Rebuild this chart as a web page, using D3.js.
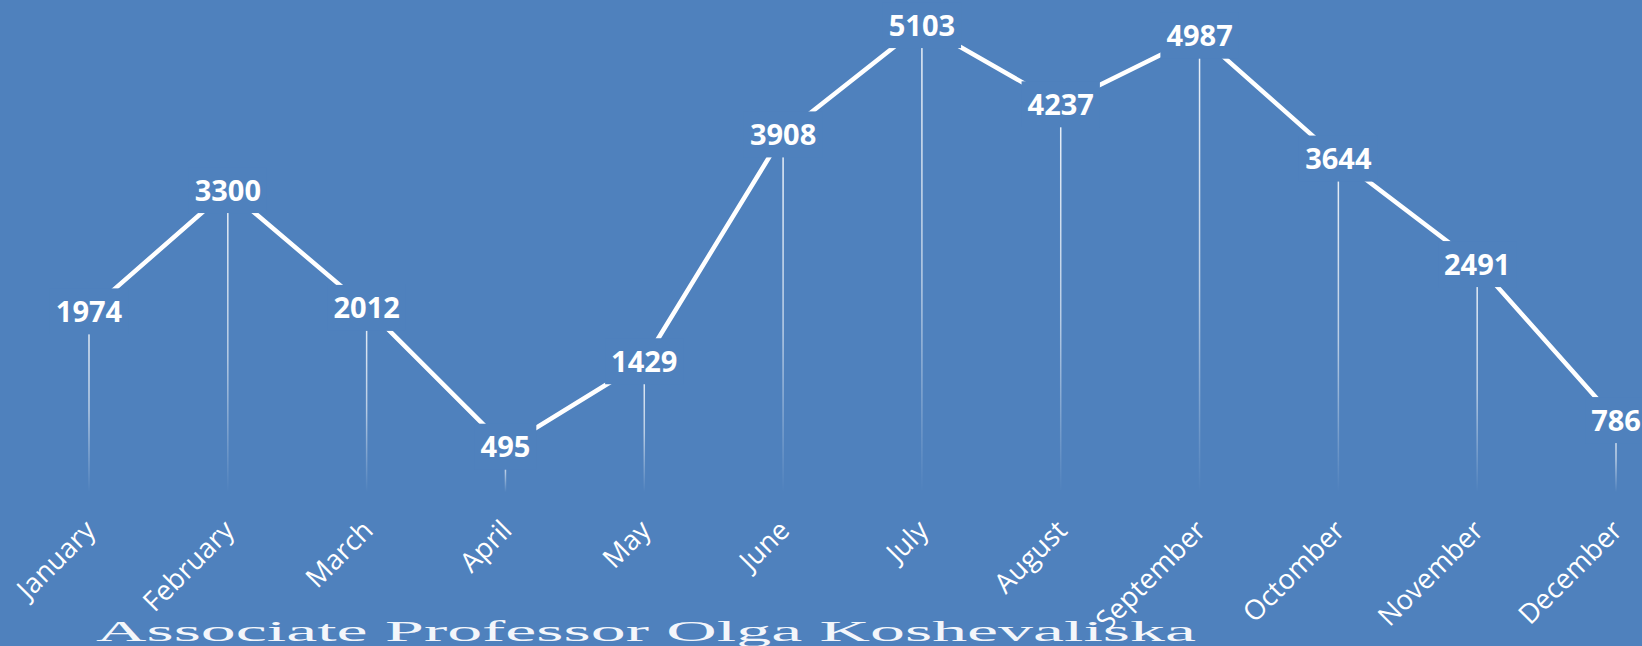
<!DOCTYPE html>
<html>
<head>
<meta charset="utf-8">
<script src="https://cdn.jsdelivr.net/npm/d3@7"></script>
<style>
  html, body { margin: 0; padding: 0; background: #4f81bd; overflow: hidden; }
  .value-label { font-family: "Open Sans", sans-serif; font-weight: 700; font-size: 29px; fill: #fff; }
  .cat-label { font-family: "Open Sans", sans-serif; font-size: 27.5px; fill: #fff; }
  .footer { font-family: "Liberation Serif", "Times New Roman", serif; font-size: 30px; fill: #f3f6fb; }
</style>
</head>
<body>
<div id="chart"></div>
<script>
const months = ["January", "February", "March", "April", "May", "June",
  "July", "August", "September", "Octomber", "November", "December"];
const values = [1974, 3300, 2012, 495, 1429, 3908, 5103, 4237, 4987, 3644, 2491, 786];
const yDomain = [0, 5000];
const footerText = "Associate Professor Olga Koshevaliska";

class LineChart {

  constructor(_config) {
    this.config = {
      parentElement: _config.parentElement,
      containerWidth: _config.containerWidth || 1642,
      containerHeight: _config.containerHeight || 646,
      background: "#4f81bd"
    }
    this.config.margin = _config.margin || { top: 34.5, bottom: 154, left: 89, right: 26 };
    this.initVis();
  }

  initVis() {
    let vis = this;

    vis.config.width = vis.config.containerWidth - vis.config.margin.left - vis.config.margin.right;
    vis.config.height = vis.config.containerHeight - vis.config.margin.top - vis.config.margin.bottom;

    vis.svg = d3.select(vis.config.parentElement).append("svg")
        .attr("width", vis.config.containerWidth)
        .attr("height", vis.config.containerHeight);

    vis.svg.append("rect")
        .attr("width", vis.config.containerWidth)
        .attr("height", vis.config.containerHeight)
        .attr("fill", vis.config.background);

    // fading drop lines
    let grad = vis.svg.append("defs").append("linearGradient")
        .attr("id", "dropFade")
        .attr("x1", 0).attr("y1", 0).attr("x2", 0).attr("y2", 1);
    grad.append("stop").attr("offset", "0%").attr("stop-color", "#fff").attr("stop-opacity", 0.9);
    grad.append("stop").attr("offset", "55%").attr("stop-color", "#fff").attr("stop-opacity", 0.6);
    grad.append("stop").attr("offset", "100%").attr("stop-color", "#fff").attr("stop-opacity", 0);

    vis.chart = vis.svg.append("g")
        .attr("transform", "translate(" + vis.config.margin.left + "," + vis.config.margin.top + ")");

    vis.xScale = d3.scalePoint()
        .domain(months)
        .range([0, vis.config.width]);

    vis.yScale = d3.scaleLinear()
        .domain(yDomain)
        .range([vis.config.height, 0]);

    vis.data = months.map((m, i) => ({ month: m, value: values[i] }));
    vis.updateVis();
  }

  updateVis() {
    let vis = this;
    const h = vis.config.height;

    vis.chart.selectAll(".drop")
        .data(vis.data)
      .join("rect")
        .attr("class", "drop")
        .attr("x", d => vis.xScale(d.month) - 0.75)
        .attr("y", d => vis.yScale(d.value))
        .attr("width", 1.5)
        .attr("height", d => h - vis.yScale(d.value))
        .attr("fill", "url(#dropFade)");

    let line = d3.line()
        .x(d => vis.xScale(d.month))
        .y(d => vis.yScale(d.value));

    vis.chart.append("path")
        .datum(vis.data)
        .attr("d", line)
        .attr("fill", "none")
        .attr("stroke", "#fff")
        .attr("stroke-width", 4.5);

    // labels sit on the points, boxed in the background colour
    let label = vis.chart.selectAll(".label")
        .data(vis.data)
      .join("g")
        .attr("class", "label")
        .attr("transform", d => "translate(" + vis.xScale(d.month) + "," + vis.yScale(d.value) + ")");

    let box = label.append("rect").attr("fill", vis.config.background);

    label.append("text")
        .attr("class", "value-label")
        .attr("text-anchor", "middle")
        .attr("dy", "0.36em")
        .text(d => d.value);

    box.each(function() {
      let w = this.parentNode.querySelector("text").getBBox().width + 12;
      d3.select(this)
          .attr("x", -w / 2)
          .attr("y", -23)
          .attr("width", w)
          .attr("height", 46);
    });

    vis.chart.selectAll(".cat-label")
        .data(months)
      .join("text")
        .attr("class", "cat-label")
        .attr("text-anchor", "end")
        .attr("transform", d => "translate(" + (vis.xScale(d) + 8) + "," + (h + 40) + ") rotate(-45)")
        .text(d => d);

    vis.svg.append("text")
        .attr("class", "footer")
        .attr("x", 96)
        .attr("y", 641)
        .attr("textLength", 1100)
        .attr("lengthAdjust", "spacingAndGlyphs")
        .text(footerText);
  }
}

let chart = new LineChart({ parentElement: "#chart" });
</script>
</body>
</html>
